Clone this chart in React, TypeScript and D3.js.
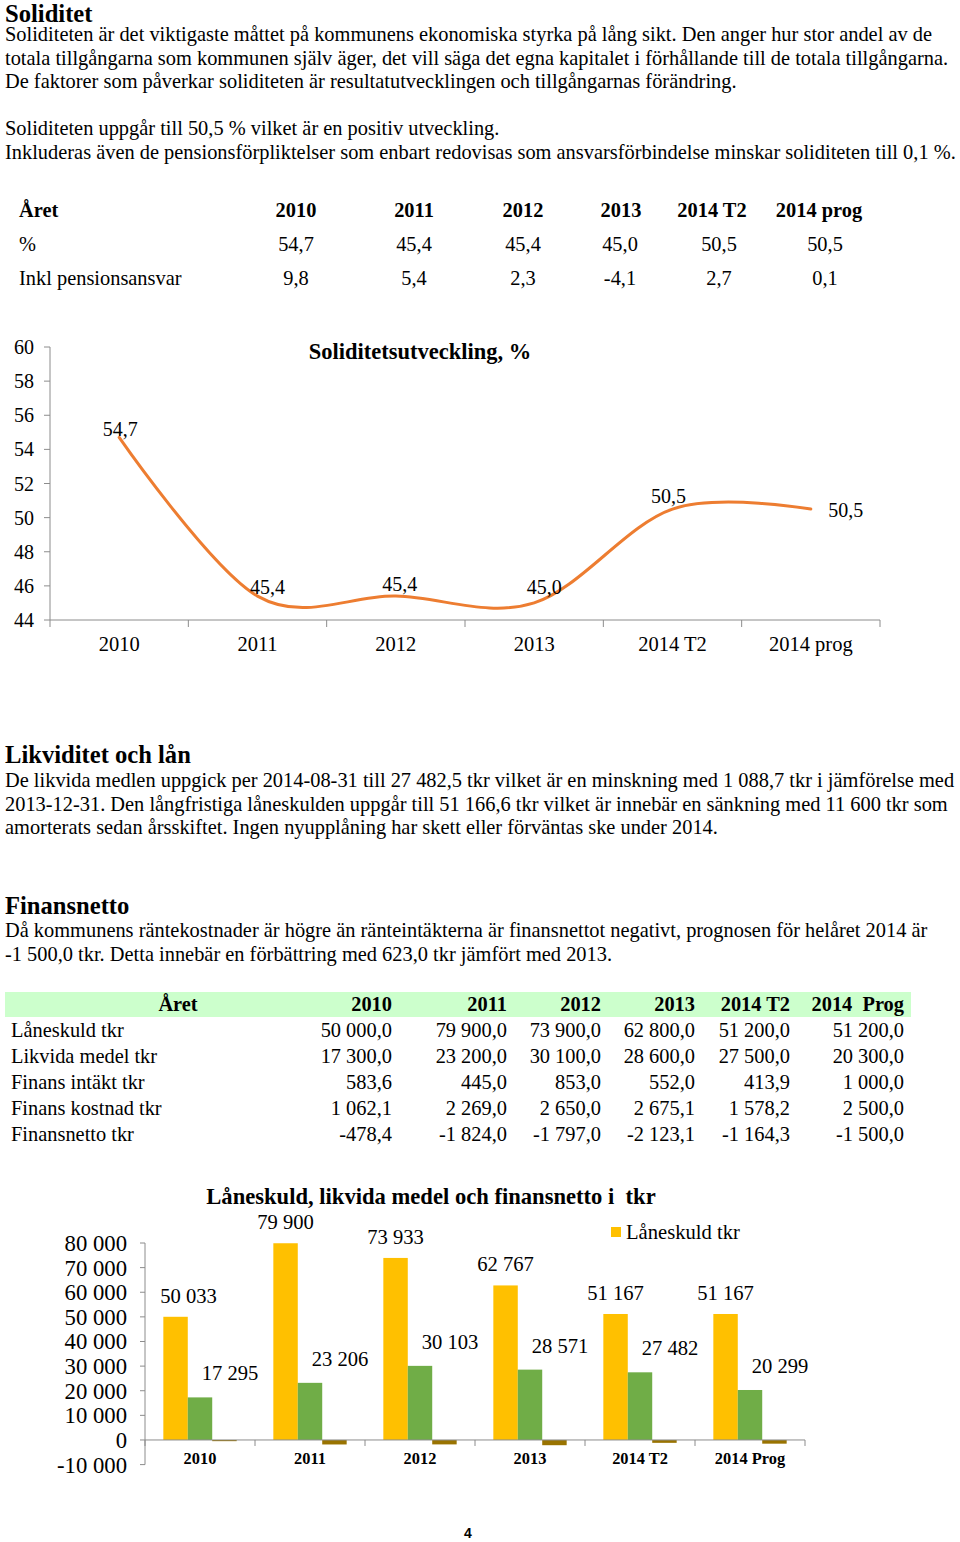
import React from 'react';
import * as d3 from 'd3';

// ---------- data ----------
const solidYears = ['2010', '2011', '2012', '2013', '2014 T2', '2014 prog'];
const solidPct = [54.7, 45.4, 45.4, 45.0, 50.5, 50.5];
const solidPension = [9.8, 5.4, 2.3, -4.1, 2.7, 0.1];
const solidTicks = [44, 46, 48, 50, 52, 54, 56, 58, 60];

const finRowLabels = ['Låneskuld tkr', 'Likvida medel tkr', 'Finans intäkt tkr', 'Finans kostnad tkr', 'Finansnetto tkr'];
const finHeader = ['2010', '2011', '2012', '2013', '2014 T2', '2014  Prog'];
const laneskuld = [50000, 79900, 73900, 62800, 51200, 51200];
const likvida = [17300, 23200, 30100, 28600, 27500, 20300];
const finIntakt = [583.6, 445.0, 853.0, 552.0, 413.9, 1000.0];
const finKostnad = [1062.1, 2269.0, 2650.0, 2675.1, 1578.2, 2500.0];
const finNetto = [-478.4, -1824.0, -1797.0, -2123.1, -1164.3, -1500.0];

const barYears = ['2010', '2011', '2012', '2013', '2014 T2', '2014 Prog'];
const barLane = [50033, 79900, 73933, 62767, 51167, 51167];
const barLikv = [17295, 23206, 30103, 28571, 27482, 20299];
const barNetto = [-478, -1824, -1797, -2123, -1164, -1500];
const barSeries = ['Låneskuld tkr', 'Likvida medel tkr', 'Finansnetto tkr'];
const barTicks = [-10000, 0, 10000, 20000, 30000, 40000, 50000, 60000, 70000, 80000];

const para1 = [
  'Soliditeten är det viktigaste måttet på kommunens ekonomiska styrka på lång sikt. Den anger hur stor andel av de',
  'totala tillgångarna som kommunen själv äger, det vill säga det egna kapitalet i förhållande till de totala tillgångarna.',
  'De faktorer som påverkar soliditeten är resultatutvecklingen och tillgångarnas förändring.',
];
const para2 = [
  'Soliditeten uppgår till 50,5 % vilket är en positiv utveckling.',
  'Inkluderas även de pensionsförpliktelser som enbart redovisas som ansvarsförbindelse minskar soliditeten till 0,1 %.',
];
const para3 = [
  'De likvida medlen uppgick per 2014-08-31 till 27 482,5 tkr vilket är en minskning med 1 088,7 tkr i jämförelse med',
  '2013-12-31. Den långfristiga låneskulden uppgår till 51 166,6 tkr vilket är innebär en sänkning med 11 600 tkr som',
  'amorterats sedan årsskiftet. Ingen nyupplåning har skett eller förväntas ske under 2014.',
];
const para4 = [
  'Då kommunens räntekostnader är högre än ränteintäkterna är finansnettot negativt, prognosen för helåret 2014 är',
  '-1 500,0 tkr. Detta innebär en förbättring med 623,0 tkr jämfört med 2013.',
];

// ---------- helpers ----------
const loc = d3.formatLocale({ decimal: ',', thousands: '\u00a0', grouping: [3], currency: ['', ''], minus: '-' } as any);
const f1 = loc.format(',.1f');
const f0 = loc.format(',.0f');
const serif = '"Liberation Serif", "Times New Roman", serif';
const ORANGE = '#ED7D31';
const AXIS = '#8c8c8c';
const BODY = 20.4;
const HEAD = 24.6;

export default function App() {
  // ----- line chart scales -----
  const lx = d3.scaleBand<string>().domain(solidYears).range([50, 880]);
  const ly = d3.scaleLinear().domain([44, 60]).range([620, 347]);
  const lcx = (d: string) => (lx(d) as number) + lx.bandwidth() / 2;
  const linePath = d3
    .line<number>()
    .x((_, i) => lcx(solidYears[i]))
    .y((d) => ly(d))
    .curve(d3.curveCatmullRom.alpha(0))(solidPct) as string;
  const lineLabelOffsets = [
    [1, -1],
    [10, -2],
    [4, -5],
    [10, -9],
    [-4, -6],
    [35, 8],
  ];

  // ----- bar chart scales -----
  const bx0 = d3.scaleBand<string>().domain(barYears).range([145, 805]);
  const bx1 = d3.scaleBand<string>().domain(barSeries).range([0, bx0.bandwidth()]).paddingOuter(0.75);
  const by = d3.scaleLinear().domain([-10000, 80000]).range([1464.6, 1243]);
  const barColors = ['#FFC000', '#70AD47', '#997300'];
  const barVals = [barLane, barLikv, barNetto];

  // table columns (layout)
  const t1HeadCenters = [296, 414, 523, 621, 712, 819];
  const t1ValCenters = [296, 414, 523, 620, 719, 825];
  const t2Right = [392, 507, 601, 695, 790, 904];
  const finRows = [laneskuld, likvida, finIntakt, finKostnad, finNetto];

  return (
    <svg
      width={960}
      height={1542}
      style={{ position: 'absolute', left: 0, top: 0, background: '#fff' }}
      fontFamily={serif}
    >
      <rect x={0} y={0} width={960} height={1542} fill="#fff" />
      {/* Soliditet */}
      <text x={5} y={21.5} fontSize={HEAD} fontWeight="bold">Soliditet</text>
      {para1.map((t, i) => (
        <text key={'p1' + i} x={5} y={41 + i * 23.5} fontSize={BODY}>{t}</text>
      ))}
      {para2.map((t, i) => (
        <text key={'p2' + i} x={5} y={135 + i * 23.5} fontSize={BODY}>{t}</text>
      ))}

      {/* table 1 */}
      <g fontSize={BODY}>
        <text x={19} y={217} fontWeight="bold">Året</text>
        {solidYears.map((d, i) => (
          <text key={'h' + i} x={t1HeadCenters[i]} y={217} textAnchor="middle" fontWeight="bold">{d}</text>
        ))}
        <text x={19} y={251}>%</text>
        {solidPct.map((d, i) => (
          <text key={'v' + i} x={t1ValCenters[i]} y={251} textAnchor="middle">{f1(d)}</text>
        ))}
        <text x={19} y={285}>Inkl pensionsansvar</text>
        {solidPension.map((d, i) => (
          <text key={'w' + i} x={t1ValCenters[i]} y={285} textAnchor="middle">{f1(d)}</text>
        ))}
      </g>

      {/* line chart */}
      <text x={420} y={359} fontSize={22.5} fontWeight="bold" textAnchor="middle">Soliditetsutveckling, %</text>
      <line x1={50} x2={50} y1={347} y2={620} stroke={AXIS} />
      {solidTicks.map((t) => (
        <g key={'lt' + t}>
          <line x1={44} x2={50} y1={ly(t)} y2={ly(t)} stroke={AXIS} />
          <text x={34} y={ly(t) + 7} fontSize={20} textAnchor="end">{t}</text>
        </g>
      ))}
      <line x1={50} x2={880} y1={620} y2={620} stroke={AXIS} />
      {solidYears.map((d, i) => (
        <g key={'lx' + i}>
          <line x1={(lx(d) as number) + lx.bandwidth()} x2={(lx(d) as number) + lx.bandwidth()} y1={620} y2={627} stroke={AXIS} />
          <text x={lcx(d)} y={651} fontSize={20.5} textAnchor="middle">{d}</text>
        </g>
      ))}
      <line x1={50} x2={50} y1={620} y2={627} stroke={AXIS} />
      <path d={linePath} fill="none" stroke={ORANGE} strokeWidth={3} strokeLinecap="round" />
      {solidPct.map((d, i) => (
        <text
          key={'ll' + i}
          x={lcx(solidYears[i]) + lineLabelOffsets[i][0]}
          y={ly(d) + lineLabelOffsets[i][1]}
          fontSize={20}
          textAnchor="middle"
        >
          {f1(d)}
        </text>
      ))}

      {/* Likviditet och lån */}
      <text x={5} y={763} fontSize={HEAD} fontWeight="bold">Likviditet och lån</text>
      {para3.map((t, i) => (
        <text key={'p3' + i} x={5} y={787 + i * 23.5} fontSize={BODY}>{t}</text>
      ))}

      {/* Finansnetto */}
      <text x={5} y={914} fontSize={HEAD} fontWeight="bold">Finansnetto</text>
      {para4.map((t, i) => (
        <text key={'p4' + i} x={5} y={937 + i * 23.5} fontSize={BODY}>{t}</text>
      ))}

      {/* table 2 */}
      <rect x={5} y={992} width={906} height={25} fill="#CCFFCC" />
      <g fontSize={BODY}>
        <text x={178} y={1011} textAnchor="middle" fontWeight="bold">Året</text>
        {finHeader.map((d, i) => (
          <text key={'fh' + i} x={t2Right[i]} y={1011} textAnchor="end" fontWeight="bold" style={{ whiteSpace: 'pre' }}>{d}</text>
        ))}
        {finRows.map((row, r) => (
          <g key={'fr' + r}>
            <text x={11} y={1037 + r * 26}>{finRowLabels[r]}</text>
            {row.map((v, i) => (
              <text key={'fv' + i} x={t2Right[i]} y={1037 + r * 26} textAnchor="end">{f1(v)}</text>
            ))}
          </g>
        ))}
      </g>

      {/* bar chart */}
      <text x={431} y={1204} fontSize={22.6} fontWeight="bold" textAnchor="middle" style={{ whiteSpace: 'pre' }}>
        Låneskuld, likvida medel och finansnetto i  tkr
      </text>
      <rect x={611} y={1227} width={10} height={10} fill={barColors[0]} />
      <text x={626} y={1239} fontSize={20.6}>Låneskuld tkr</text>

      {barTicks.map((t) => (
        <g key={'bt' + t}>
          <line x1={140} x2={145} y1={by(t)} y2={by(t)} stroke={AXIS} />
          <text x={127} y={by(t) + 8} fontSize={22.7} textAnchor="end">{f0(t)}</text>
        </g>
      ))}
      <line x1={145} x2={145} y1={1243} y2={by(-10000)} stroke={AXIS} />

      {barVals.map((vals, s) =>
        vals.map((v, i) => {
          const x = (bx0(barYears[i]) as number) + (bx1(barSeries[s]) as number);
          const y0 = by(0);
          const y1 = by(v);
          return (
            <rect
              key={'b' + s + '-' + i}
              x={x}
              y={Math.min(y0, y1)}
              width={bx1.bandwidth()}
              height={Math.max(Math.abs(y1 - y0), 0.5)}
              fill={barColors[s]}
            />
          );
        })
      )}
      <line x1={145} x2={805} y1={by(0)} y2={by(0)} stroke={AXIS} />
      {barYears.map((d, i) => (
        <g key={'bx' + i}>
          <line x1={(bx0(d) as number) + bx0.bandwidth()} x2={(bx0(d) as number) + bx0.bandwidth()} y1={by(0)} y2={by(0) + 6} stroke={AXIS} />
          <text x={(bx0(d) as number) + bx0.bandwidth() / 2} y={1464} fontSize={16.4} fontWeight="bold" textAnchor="middle">{d}</text>
        </g>
      ))}
      <line x1={145} x2={145} y1={by(0)} y2={by(0) + 6} stroke={AXIS} />
      {barLane.map((v, i) => (
        <text
          key={'lb' + i}
          x={(bx0(barYears[i]) as number) + (bx1(barSeries[0]) as number) + bx1.bandwidth() / 2 + (i === 0 ? 13 : 0)}
          y={by(v) - 14}
          fontSize={20.6}
          textAnchor="middle"
        >
          {f0(v)}
        </text>
      ))}
      {barLikv.map((v, i) => (
        <text
          key={'gb' + i}
          x={(bx0(barYears[i]) as number) + (bx1(barSeries[1]) as number) + bx1.bandwidth() / 2 + 30}
          y={by(v) - 17}
          fontSize={20.6}
          textAnchor="middle"
        >
          {f0(v)}
        </text>
      ))}

      <text x={468} y={1538} fontSize={14} fontWeight="bold" fontFamily='"Liberation Sans", Arial, sans-serif' textAnchor="middle">4</text>
    </svg>
  );
}
